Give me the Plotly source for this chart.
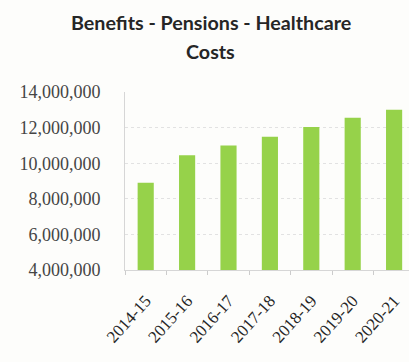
import plotly.graph_objects as go

categories = ["2014-15", "2015-16", "2016-17", "2017-18", "2018-19", "2019-20", "2020-21"]
costs = [8900000, 10450000, 11000000, 11480000, 12030000, 12550000, 13000000]
y_ticks = [4000000, 6000000, 8000000, 10000000, 12000000, 14000000]
y_tick_labels = ["4,000,000", "6,000,000", "8,000,000", "10,000,000", "12,000,000", "14,000,000"]
title_lines = ["Benefits - Pensions - Healthcare", "Costs"]

fig = go.Figure()
fig.add_trace(go.Bar(
    x=categories, y=costs,
    marker=dict(color="#96d24a", line=dict(width=0)),
    width=0.39,
))

# plot area: top 92px, bottom 270px -> height 178px
for txt, py in zip(title_lines, [22.5, 51]):
    fig.add_annotation(
        text=txt, xref="paper", yref="paper",
        x=(210.5 - 125) / 284, y=(270 - py) / 178,
        xanchor="center", yanchor="middle", showarrow=False,
        font=dict(family="Lato", size=19.7, color="#262626", weight="bold"),
    )

fig.update_layout(
    width=409, height=362,
    margin=dict(l=125, r=0, t=92, b=92),
    paper_bgcolor="#fdfdfb", plot_bgcolor="#fdfdfb",
    showlegend=False,
    font=dict(family="Liberation Serif"),
)
fig.update_yaxes(
    range=[4000000, 14000000],
    tickvals=y_ticks, ticktext=y_tick_labels,
    tickfont=dict(family="Liberation Serif", size=18, color="#454545"),
    ticklabelstandoff=20,
    showgrid=True, gridcolor="#e2e2e2", griddash="dot", gridwidth=1,
    showline=True, linecolor="#d6d6d6", linewidth=1,
    ticks="", zeroline=False,
)
fig.update_xaxes(
    range=[-0.5, 6.36],
    tickangle=-48,
    tickfont=dict(family="Liberation Serif", size=17, color="#262626"),
    ticklabelstandoff=13,
    showline=True, linecolor="#d6d6d6", linewidth=1,
    ticks="outside", tickson="boundaries", ticklen=4, tickcolor="#cccccc",
    showgrid=False,
)

fig.write_html("out.html")
